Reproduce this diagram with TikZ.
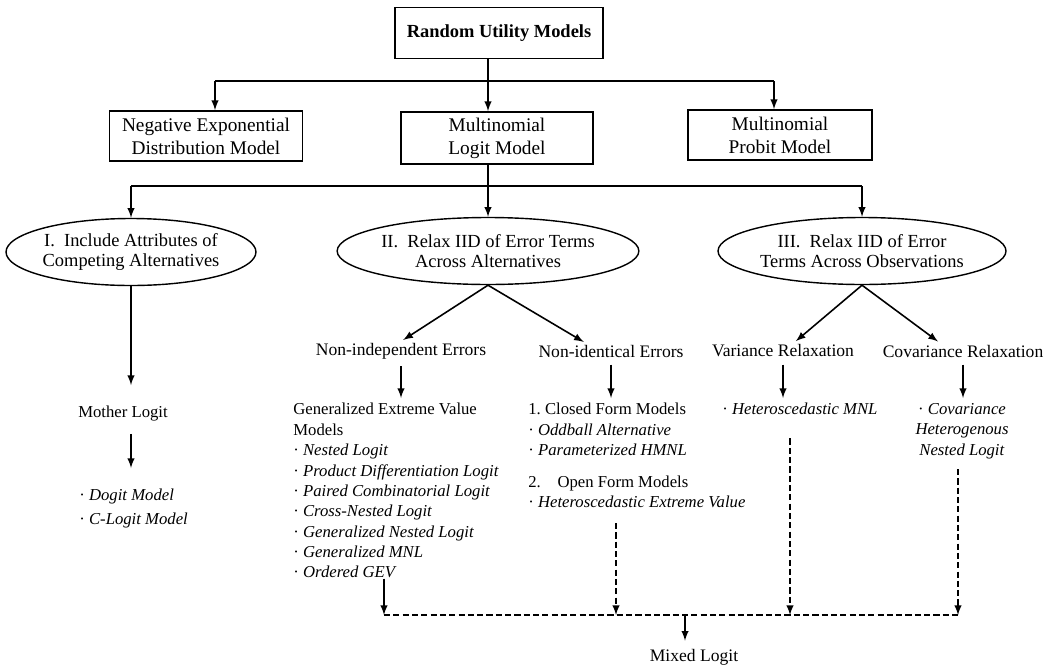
\documentclass[tikz,border=0pt]{standalone}
\usepackage{fontspec}
\setmainfont{Liberation Serif}
\usetikzlibrary{shapes.geometric}
\newcommand{\lbul}{\textperiodcentered\ }

\begin{document}
\begin{tikzpicture}[x=0.02cm, y=-0.02cm,
        every node/.style={font=\fontsize{10}{12}\selectfont},
        box/.style={
          draw, line width=1pt, inner sep=0pt,
          minimum width=3.86cm, minimum height=1.0cm, align=center,
          font=\fontsize{11}{13}\selectfont,
        },
        oval/.style={
          draw, ellipse, line width=0.8pt, inner sep=0pt,
          minimum height=1.34cm, align=center,
          font=\fontsize{10.5}{11.5}\selectfont,
        },
        hd/.style={inner sep=0pt},
        lst/.style={inner sep=0pt, align=left, anchor=north west,
          font=\fontsize{9.5}{11.6}\selectfont},
        arr/.style={-latex, line width=0.9pt},
        darr/.style={-latex, line width=0.9pt, dash pattern=on 3.5pt off 1.8pt},
        ln/.style={line width=0.9pt},
        dln/.style={line width=0.9pt, dash pattern=on 3.5pt off 1.8pt},
      ]
      \useasboundingbox (0,0) rectangle (1053,666);

      % top levels
      \node[box, minimum width=4.16cm, minimum height=1.02cm, font=\fontsize{10.5}{12}\selectfont\bfseries]
        (rum) at (499,33) {Random Utility Models};
      \node[box] (neg) at (206,136) {Negative Exponential\\Distribution Model};
      \node[box, minimum width=3.84cm, minimum height=1.04cm] (mnl) at (497,138) {Multinomial\\Logit Model};
      \node[box, minimum width=3.68cm] (mnp) at (780,135) {Multinomial\\Probit Model};

      \coordinate (b1l) at (215,81);
      \coordinate (b1c) at (488,81);
      \coordinate (b1r) at (774,81);
      \draw[ln] (b1c |- rum.south) -- (b1c);
      \draw[arr] (b1c) -- (b1c |- mnl.north);
      \draw[ln] (b1l) -- (b1r);
      \draw[arr] (b1l) -- (b1l |- neg.north);
      \draw[arr] (b1r) -- (b1r |- mnp.north);

      \node[oval, minimum width=4.76cm] (e1) at (131,252) {I.\ \ Include Attributes of\\Competing Alternatives};
      \node[oval, minimum width=5.16cm] (e2) at (488,251) {II.\ \ Relax IID of Error Terms\\Across Alternatives};
      \node[oval, minimum width=5.14cm] (e3) at (862,251) {III.\ \ Relax IID of Error\\Terms Across Observations};

      \coordinate (b2l) at (131,186);
      \coordinate (b2r) at (862,186);
      \draw[arr] (b1c |- mnl.south) -- (e2.north);
      \draw[ln] (b2l) -- (b2r);
      \draw[arr] (b2l) -- (e1.north);
      \draw[arr] (b2r) -- (e3.north);

      % branch I
      \node[hd, font=\fontsize{9.5}{11}\selectfont] (ml) at (123,414) {Mother Logit};
      \node[lst] (dog) at (79,489) {\lbul\textit{Dogit Model}\\[2pt]\lbul\textit{C-Logit Model}};
      \draw[arr, shorten >=0.42cm] (e1.south) -- (e1.south |- ml.north);
      \draw[arr, shorten <=0.24cm, shorten >=0.42cm] (e1.south |- ml.south) -- (e1.south |- dog.north);

      % branch II and III
      \node[hd] (nie) at (401,351) {Non-independent Errors};
      \node[hd] (nide) at (611,351) {Non-identical Errors};
      \node[hd] (var) at (783,351) {Variance Relaxation};
      \node[hd] (cov) at (963,351) {Covariance Relaxation};

      \draw[arr, shorten >=0.1cm] (e2.south) -- ([xshift=-0.04cm]nie.north);
      \draw[arr, shorten >=0.1cm] (e2.south) -- ([xshift=-0.46cm]nide.north);
      \draw[arr, shorten >=0.1cm] (e3.south) -- ([xshift=0.18cm]var.north);
      \draw[arr, shorten >=0.1cm] (e3.south) -- ([xshift=-0.42cm]cov.north);

      \node[lst] (gev) at (293,403) {Generalized Extreme Value\\Models\\
        \lbul\textit{Nested Logit}\\
        \lbul\textit{Product Differentiation Logit}\\
        \lbul\textit{Paired Combinatorial Logit}\\
        \lbul\textit{Cross-Nested Logit}\\
        \lbul\textit{Generalized Nested Logit}\\
        \lbul\textit{Generalized MNL}\\
        \lbul\textit{Ordered GEV}};
      \node[lst] (cfm) at (528,403) {1.\ Closed Form Models\\
        \lbul\textit{Oddball Alternative}\\
        \lbul\textit{Parameterized HMNL}\\[0.22cm]
        2.\quad Open Form Models\\
        \lbul\textit{Heteroscedastic Extreme Value}};
      \node[lst] (hmnl) at (722,403) {\lbul\textit{Heteroscedastic MNL}};
      \node[lst, anchor=north, align=center] (covl) at (962,403) {\lbul\textit{Covariance}\\
        \textit{Heterogenous}\\\textit{Nested Logit}};

      \draw[arr, shorten <=0.14cm, shorten >=0.1cm] (nie.south) -- (nie.south |- gev.north);
      \draw[arr, shorten <=0.14cm, shorten >=0.1cm] (nide.south) -- (nide.south |- cfm.north);
      \draw[arr, shorten <=0.14cm, shorten >=0.1cm] (var.south) -- (var.south |- hmnl.north);
      \draw[arr, shorten <=0.14cm, shorten >=0.1cm] (cov.south) -- (cov.south |- covl.north);

      % mixed logit
      \coordinate (m1) at (384,615);
      \coordinate (m2) at (616,615);
      \coordinate (m3) at (790,615);
      \coordinate (m4) at (958,615);
      \coordinate (mt) at (685,615);
      \node[hd] (mix) at (694,657) {Mixed Logit};

      \draw[arr] (gev.south -| m1) -- (m1);
      \draw[darr, shorten <=0.3cm] (cfm.south -| m2) -- (m2);
      \draw[darr, shorten <=0.46cm] (hmnl.south -| m3) -- (m3);
      \draw[darr, shorten <=0.2cm] (covl.south -| m4) -- (m4);
      \draw[dln] (m1) -- (m4);
      \draw[arr, shorten >=0.16cm] (mt) -- (mt |- mix.north);
    \end{tikzpicture}
\end{document}
